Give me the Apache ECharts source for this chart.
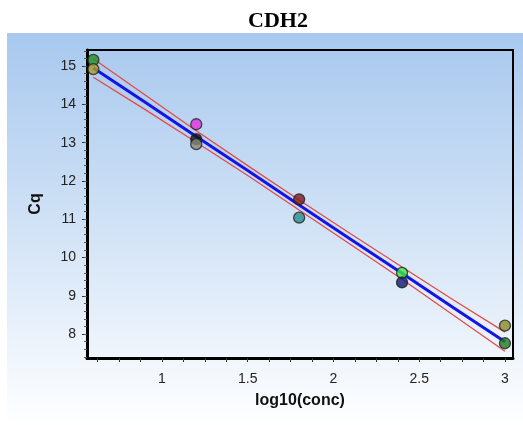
<!DOCTYPE html>
<html><head><meta charset="utf-8">
<script src="https://cdn.jsdelivr.net/npm/echarts@6/dist/echarts.min.js"></script>
<style>html,body{margin:0;padding:0;background:#fff}#c{width:523px;height:425px}</style>
</head><body><div id="c"></div>
<script>
const titleText = 'CDH2';
const xName = 'log10(conc)';
const yName = 'Cq';
const xLabelVals = [1, 1.5, 2, 2.5, 3];
const xTickVals = [0.625, 0.75, 0.875, 1, 1.125, 1.25, 1.375, 1.5, 1.625, 1.75, 1.875, 2, 2.125, 2.25, 2.375, 2.5, 2.625, 2.75, 2.875, 3];
const yLabelVals = [8, 9, 10, 11, 12, 13, 14, 15];
const ptX = [0.6, 0.6, 1.2, 1.2, 1.2, 1.8, 1.8, 2.4, 2.4, 3.0, 3.0];
const ptY = [15.16, 14.92, 13.48, 13.09, 12.96, 11.52, 11.04, 9.60, 9.35, 8.22, 7.76];
const ptColors = ['#1f8f1f', '#a89a28', '#e030e0', '#151515', '#888878', '#801818', '#2a8c8c', '#3ce83c', '#101a70', '#8a8a24', '#1f7a1f'];
const fitX = [0.6, 0.9, 1.2, 1.5, 1.8, 2.1, 2.4, 2.7, 3.0];
const fitY = [14.95, 14.06, 13.16, 12.27, 11.37, 10.48, 9.59, 8.69, 7.80];
const upperY = [15.19, 14.25, 13.31, 12.40, 11.50, 10.62, 9.75, 8.89, 8.05];
const lowerY = [14.71, 13.87, 13.01, 12.14, 11.24, 10.34, 9.43, 8.49, 7.55];

const X_MIN = 0.563, X_MAX = 3.047, Y_MIN = 7.375, Y_MAX = 15.42;
const yMinorTicks = [];
for (let v = 7.4; v <= 15.41; v += 0.2) yMinorTicks.push(+v.toFixed(1));

const chart = echarts.init(document.getElementById('c'), null, {renderer: 'canvas'});
const pair = (xs, ys) => xs.map((x, i) => [x, ys[i]]);

chart.setOption({
  animation: false,
  backgroundColor: '#ffffff',
  graphic: [
    {type: 'rect', z: -10, shape: {x: 7, y: 33, width: 516, height: 392},
     style: {fill: new echarts.graphic.LinearGradient(0, 0, 0, 1, [
       {offset: 0, color: '#a8c8ee'},
       {offset: 0.45, color: '#cde0f5'},
       {offset: 1, color: '#ffffff'}])}},
    {type: 'text', x: 278, y: 21, z: 10,
     style: {text: titleText, font: 'bold 22px "Liberation Serif", "Times New Roman", serif', fill: '#000', align: 'center', verticalAlign: 'middle'}}
  ],
  grid: {left: 87, top: 50, right: 10, bottom: 67, show: true, borderColor: '#000', borderWidth: 2, backgroundColor: 'transparent'},
  xAxis: [{
    type: 'value', min: X_MIN, max: X_MAX,
    name: xName, nameLocation: 'middle', nameGap: 35,
    nameTextStyle: {fontFamily: '"Liberation Sans", Arial, sans-serif', fontWeight: 'bold', fontSize: 16, color: '#111'},
    axisLine: {show: true, onZero: false, lineStyle: {color: '#000', width: 3}},
    axisTick: {show: true, inside: false, customValues: xTickVals, length: 4, lineStyle: {color: '#333', width: 1}},
    axisLabel: {customValues: xLabelVals, margin: 14, fontFamily: '"Liberation Sans", Arial, sans-serif', fontSize: 14, color: '#222', formatter: v => String(v)},
    splitLine: {show: false}
  }],
  yAxis: [{
    type: 'value', min: Y_MIN, max: Y_MAX,
    name: yName, nameLocation: 'middle', nameGap: 43, nameRotate: 90,
    nameTextStyle: {fontFamily: '"Liberation Sans", Arial, sans-serif', fontWeight: 'bold', fontSize: 16, color: '#111'},
    axisLine: {show: true, onZero: false, lineStyle: {color: '#000', width: 3}},
    axisTick: {show: true, inside: false, customValues: yLabelVals, length: 5, lineStyle: {color: '#333', width: 1}},
    axisLabel: {customValues: yLabelVals, margin: 11, fontFamily: '"Liberation Sans", Arial, sans-serif', fontSize: 14, color: '#222', formatter: v => String(v)},
    splitLine: {show: false}
  }, {
    type: 'value', min: Y_MIN, max: Y_MAX, position: 'left', offset: 0,
    axisLine: {show: false},
    axisTick: {show: true, inside: false, customValues: yMinorTicks, length: 3, lineStyle: {color: '#555', width: 1}},
    axisLabel: {show: false},
    splitLine: {show: false}
  }],
  series: [
    {type: 'line', data: pair(fitX, upperY), showSymbol: false, symbol: 'none', lineStyle: {color: '#e24a4a', width: 1.3}, z: 2},
    {type: 'line', data: pair(fitX, lowerY), showSymbol: false, symbol: 'none', lineStyle: {color: '#e24a4a', width: 1.3}, z: 2},
    {type: 'line', data: pair(fitX, fitY), showSymbol: false, symbol: 'none', lineStyle: {color: '#1414e6', width: 3}, z: 3},
    {type: 'scatter', z: 5, symbol: 'circle', symbolSize: 11,
     data: ptX.map((x, i) => ({value: [x, ptY[i]], itemStyle: {color: ptColors[i], borderColor: '#222', borderWidth: 1.3}}))}
  ]
});
</script></body></html>
